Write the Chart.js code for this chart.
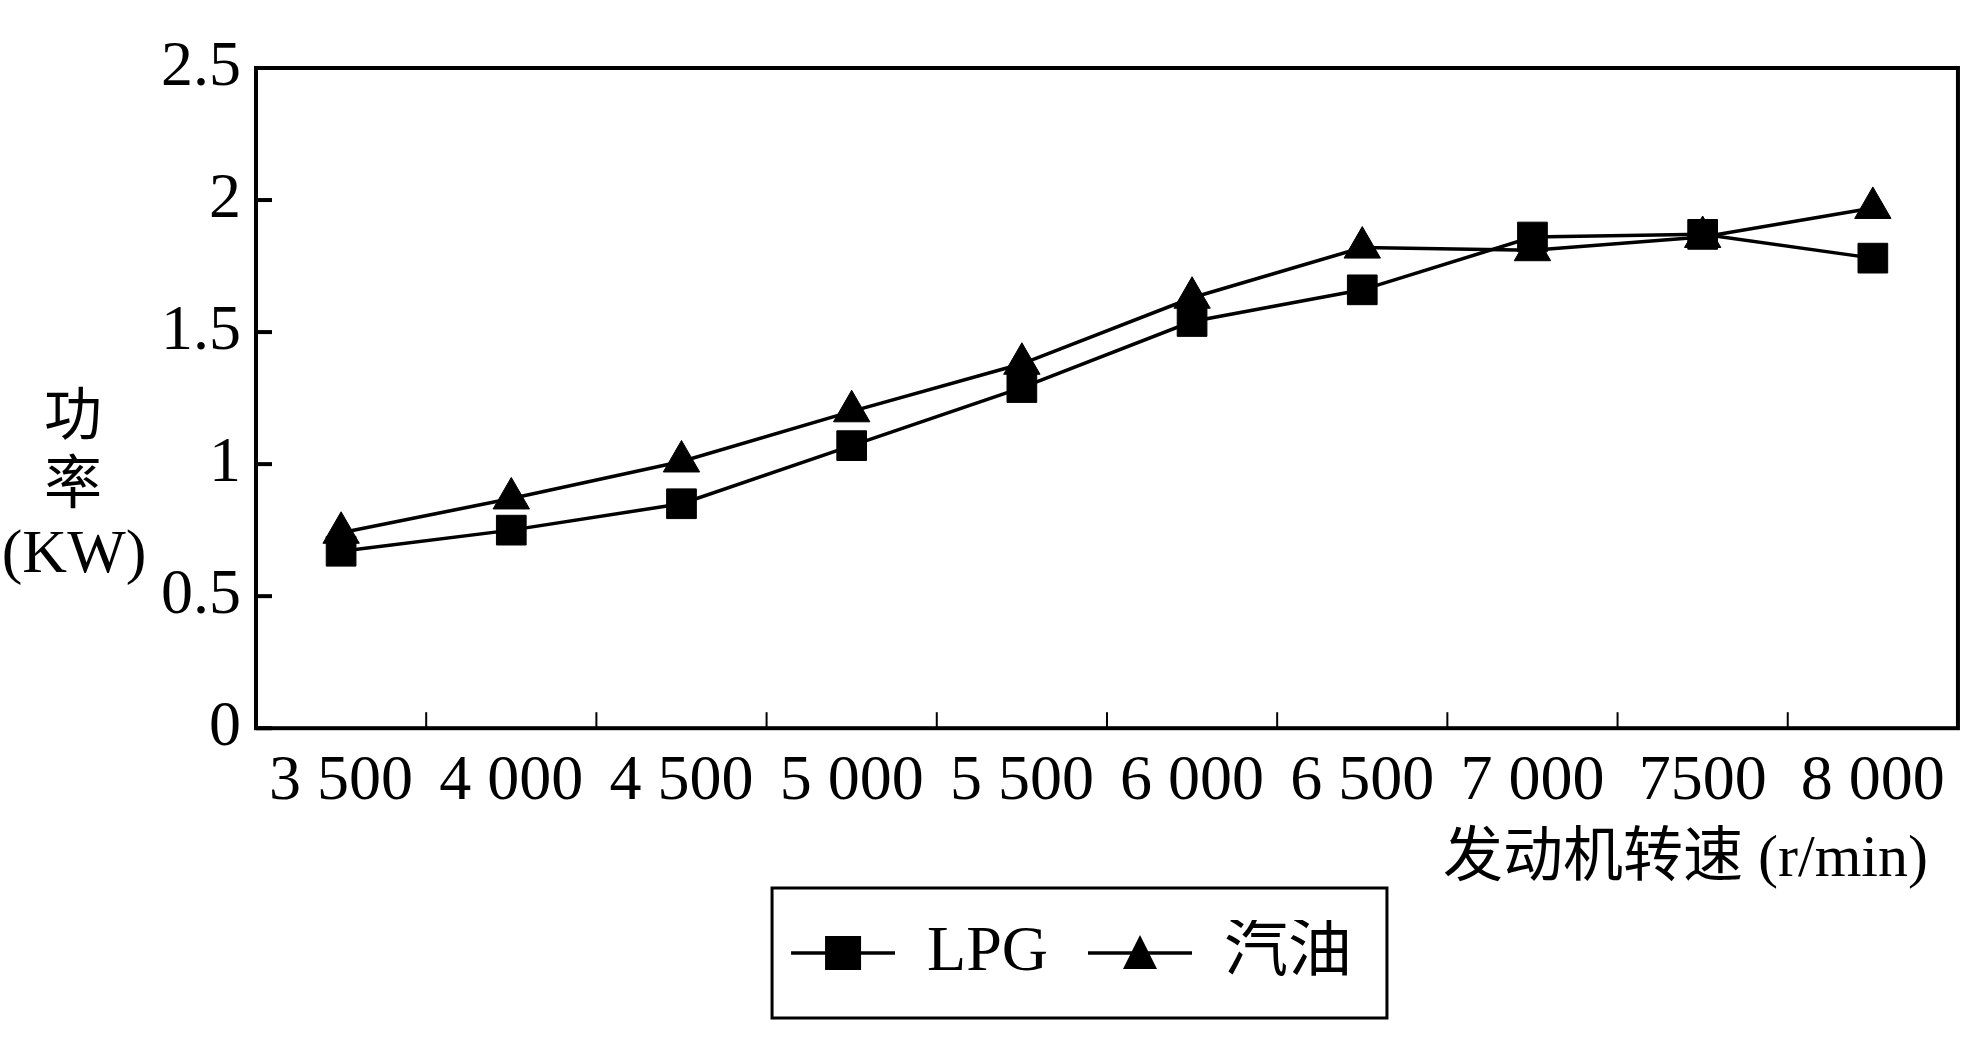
<!DOCTYPE html>
<html>
<head>
<meta charset="utf-8">
<script src="https://cdn.jsdelivr.net/npm/chart.js@4.4.0/dist/chart.umd.min.js"></script>
<style>
  html, body { margin: 0; padding: 0; background: #fff; }
</style>
</head>
<body>
<canvas id="powerChart" width="1961" height="1063"></canvas>
<script>
// 发动机转速 (r/min)
var speeds = ["3 500", "4 000", "4 500", "5 000", "5 500", "6 000", "6 500", "7 000", "7500", "8 000"];
// 功率 (KW)
var lpgPower = [0.67, 0.75, 0.85, 1.07, 1.29, 1.54, 1.66, 1.86, 1.87, 1.78];
var gasPower = [0.74, 0.87, 1.01, 1.20, 1.38, 1.63, 1.82, 1.81, 1.86, 1.97];
var seriesNames = ["LPG", "汽油"];
var yTitle = ["功", "率", "(KW)"];
var xTitle = "发动机转速 (r/min)\u2002";

var serif = "'Liberation Serif', 'Noto Sans CJK SC', serif";

// legend sample: short line with the marker in the middle (39px empty on the left)
function legendIcon(style) {
  var c = document.createElement('canvas');
  c.width = 143;
  c.height = 40;
  var g = c.getContext('2d');
  g.fillStyle = '#000';
  g.strokeStyle = '#000';
  g.lineWidth = 3.5;
  g.beginPath();
  g.moveTo(39, 20);
  g.lineTo(143, 20);
  g.stroke();
  if (style === 'rect') {
    g.fillRect(73, 3, 36, 34);
  } else {
    g.beginPath();
    g.moveTo(91, 2);
    g.lineTo(108, 36);
    g.lineTo(74, 36);
    g.closePath();
    g.fill();
  }
  return c;
}

// frame, inward tick marks, stacked y title, legend box
var framePlugin = {
  id: 'frame',
  afterDraw: function (chart) {
    var ctx = chart.ctx;
    var a = chart.chartArea;
    var xs = chart.scales.x;
    var ys = chart.scales.y;
    ctx.save();
    ctx.strokeStyle = '#000';
    ctx.fillStyle = '#000';

    ctx.lineWidth = 4;
    ys.ticks.forEach(function (t) {
      var y = ys.getPixelForValue(t.value);
      ctx.beginPath();
      ctx.moveTo(a.left, y);
      ctx.lineTo(a.left + 16, y);
      ctx.stroke();
    });

    ctx.lineWidth = 2;
    for (var i = 1; i < speeds.length; i++) {
      var x = (xs.getPixelForTick(i - 1) + xs.getPixelForTick(i)) / 2;
      ctx.beginPath();
      ctx.moveTo(x, a.bottom);
      ctx.lineTo(x, a.bottom - 16);
      ctx.stroke();
    }

    ctx.lineWidth = 4;
    ctx.strokeRect(a.left, a.top, a.right - a.left, a.bottom - a.top);

    ctx.textAlign = 'center';
    ctx.textBaseline = 'middle';
    ctx.font = "58px " + serif;
    ctx.fillText(yTitle[0], a.left - 183, a.top + 352);
    ctx.fillText(yTitle[1], a.left - 183, a.top + 420);
    ctx.font = "62px " + serif;
    ctx.fillText(yTitle[2], a.left - 182, a.top + 488);

    var boxes = chart.legend.legendHitBoxes;
    if (boxes && boxes.length) {
      var first = boxes[0];
      var last = boxes[boxes.length - 1];
      var cy = first.top + first.height / 2;
      var bx = first.left + 20;
      ctx.lineWidth = 3;
      ctx.strokeRect(bx, cy - 65, last.left + last.width + 35 - bx, 130);
    }
    ctx.restore();
  }
};

var ctx = document.getElementById('powerChart');

var chartGraph = new Chart(ctx, {
  type: 'line',
  data: {
    labels: speeds,
    datasets: [{
      label: seriesNames[0],
      data: lpgPower,
      borderColor: '#000',
      borderWidth: 3.5,
      backgroundColor: '#000',
      pointStyle: 'rect',
      pointRadius: 21,
      pointBackgroundColor: '#000',
      pointBorderColor: '#000',
      pointBorderWidth: 1,
      tension: 0,
      fill: false
    }, {
      label: seriesNames[1],
      data: gasPower,
      borderColor: '#000',
      borderWidth: 3.5,
      backgroundColor: '#000',
      pointStyle: 'triangle',
      pointRadius: 21,
      pointBackgroundColor: '#000',
      pointBorderColor: '#000',
      pointBorderWidth: 1,
      tension: 0,
      fill: false
    }]
  },
  plugins: [framePlugin],
  options: {
    responsive: false,
    animation: false,
    events: [],
    layout: {
      autoPadding: false,
      padding: { left: 146, right: 3, top: 68, bottom: 68 }
    },
    plugins: {
      title: { display: false },
      tooltip: { enabled: false },
      legend: {
        position: 'bottom',
        labels: {
          color: '#000',
          font: { family: serif, size: 64 },
          usePointStyle: true,
          pointStyleWidth: 143,
          padding: 1,
          generateLabels: function (chart) {
            return chart.data.datasets.map(function (ds, i) {
              return {
                text: ds.label,
                fillStyle: '#000',
                strokeStyle: '#000',
                fontColor: '#000',
                lineWidth: 0,
                pointStyle: legendIcon(ds.pointStyle),
                datasetIndex: i,
                hidden: false
              };
            });
          }
        }
      }
    },
    scales: {
      x: {
        offset: true,
        grid: { display: false, drawTicks: false },
        border: { display: false },
        ticks: {
          color: '#000',
          font: { family: serif, size: 64 },
          padding: 16,
          maxRotation: 0,
          autoSkip: false
        },
        title: {
          display: true,
          text: xTitle,
          align: 'end',
          color: '#000',
          font: { family: serif, size: 60, lineHeight: 1.0 },
          padding: { top: -7, bottom: 30 }
        }
      },
      y: {
        min: 0,
        max: 2.5,
        grid: { display: false, drawTicks: false },
        border: { display: false },
        ticks: {
          stepSize: 0.5,
          color: '#000',
          font: { family: serif, size: 64 },
          padding: 15,
          callback: function (v) { return String(v); }
        }
      }
    }
  }
});
</script>
</body>
</html>
